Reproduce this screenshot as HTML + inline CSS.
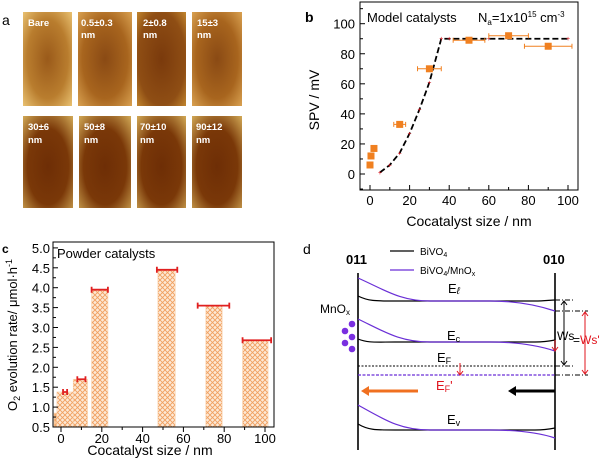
<!DOCTYPE html>
<html><head><meta charset="utf-8"><style>
body{margin:0;background:#fff;}
svg text{font-family:"Liberation Sans",Arial,sans-serif;}
</style></head><body>
<svg id="fig" width="600" height="460" viewBox="0 0 600 460" xmlns="http://www.w3.org/2000/svg">
<defs>
<pattern id="hatch" width="5" height="5" patternUnits="userSpaceOnUse">
<rect width="5" height="5" fill="#fde9d6"/>
<path d="M0,0 L5,5 M5,0 L0,5" stroke="#f0a060" stroke-width="0.9"/>
</pattern>
<pattern id="hatch2" width="5" height="5" patternUnits="userSpaceOnUse">
<rect width="5" height="5" fill="#f8c89a"/>
<path d="M0,0 L5,5 M5,0 L0,5" stroke="#f0a060" stroke-width="0.9"/>
</pattern>
<radialGradient id="g1" cx="0.5" cy="0.5" r="0.7"><stop offset="0" stop-color="#9a5a1a"/><stop offset="0.6" stop-color="#b97d2e"/><stop offset="1" stop-color="#e8c070"/></radialGradient>
<radialGradient id="g2" cx="0.5" cy="0.5" r="0.7"><stop offset="0" stop-color="#8a4a14"/><stop offset="0.6" stop-color="#a8651e"/><stop offset="1" stop-color="#d8a050"/></radialGradient>
<radialGradient id="g3" cx="0.5" cy="0.5" r="0.7"><stop offset="0" stop-color="#7a3a0c"/><stop offset="0.7" stop-color="#8f4e14"/><stop offset="1" stop-color="#c0842e"/></radialGradient>
<radialGradient id="g4" cx="0.5" cy="0.55" r="0.75"><stop offset="0" stop-color="#6e2e06"/><stop offset="0.55" stop-color="#7a3808"/><stop offset="1" stop-color="#d4ac58"/></radialGradient>
</defs>

<g>
<text x="2" y="25" font-size="14">a</text>
<g font-size="9.5" font-weight="bold" fill="#fff">
<rect x="23" y="12" width="49" height="94" fill="url(#g1)"/>
<text x="28" y="26">Bare</text>
<rect x="78" y="12" width="54" height="94" fill="url(#g2)"/>
<text x="81" y="26">0.5±0.3</text><text x="81" y="38">nm</text>
<rect x="137" y="12" width="49" height="94" fill="url(#g3)"/>
<text x="143" y="26">2±0.8</text><text x="143" y="38">nm</text>
<rect x="192" y="12" width="50" height="94" fill="url(#g2)"/>
<text x="197" y="26">15±3</text><text x="197" y="38">nm</text>
<rect x="23" y="116" width="50" height="92" fill="url(#g4)"/>
<text x="28" y="130">30±6</text><text x="28" y="143">nm</text>
<rect x="79" y="116" width="52" height="92" fill="url(#g4)"/>
<text x="84" y="130">50±8</text><text x="84" y="143">nm</text>
<rect x="137" y="116" width="49" height="92" fill="url(#g4)"/>
<text x="140" y="130">70±10</text><text x="140" y="143">nm</text>
<rect x="192" y="116" width="50" height="92" fill="url(#g4)"/>
<text x="196" y="130">90±12</text><text x="196" y="143">nm</text>
</g>
</g>

<g id="pb">
<text x="478" y="22" font-size="13">N<tspan font-size="8" dy="3">a</tspan><tspan dy="-3">=1x10</tspan><tspan font-size="8" dy="-5">15</tspan><tspan dy="5"> cm</tspan><tspan font-size="8" dy="-5">-3</tspan></text>
</g>
<g id="pc">
<text x="0" y="0" font-size="13" text-anchor="middle" transform="translate(17,335) rotate(-90)">O<tspan font-size="9" dy="3">2</tspan><tspan dy="-3"> evolution rate/ μmol·h</tspan><tspan font-size="9" dy="-5">-1</tspan></text>
</g>

<g fill="none">
<text x="303" y="254" font-size="14" fill="#000">d</text>
<text x="346" y="264" font-size="13" font-weight="bold" fill="#000">011</text>
<text x="543" y="264" font-size="13" font-weight="bold" fill="#000">010</text>
<line x1="390" y1="251" x2="414" y2="251" stroke="#000" stroke-width="1.3"/>
<text x="420" y="255" font-size="10" fill="#000">BiVO<tspan font-size="7" dy="2">4</tspan></text>
<line x1="390" y1="270" x2="414" y2="270" stroke="#6a2fd6" stroke-width="1.3"/>
<text x="420" y="274" font-size="10" fill="#000">BiVO<tspan font-size="7" dy="2">4</tspan><tspan dy="-2">/MnO</tspan><tspan font-size="7" dy="2">x</tspan></text>
<line x1="358" y1="273" x2="358" y2="450" stroke="#000" stroke-width="1.6"/>
<line x1="555" y1="273" x2="555" y2="450" stroke="#000" stroke-width="1.6"/>
<g stroke="#000" stroke-width="1.2">
<path d="M358,296 C368,301 375,301 395,301 L535,301 C545,301 550,300 555,300"/>
<path d="M358,339 C368,343 375,342 395,342 L535,342 C545,342 550,341 555,340"/>
<path d="M358,424 C368,430 375,430 395,430 L535,430 C545,430 550,429 555,428"/>
<line x1="358" y1="366" x2="555" y2="366" stroke-dasharray="2,1.5" stroke-width="1"/>
</g>
<g stroke="#6a2fd6" stroke-width="1.2">
<path d="M358,278 C385,290 400,301 430,301 L490,301 C520,301 540,306 555,311"/>
<path d="M358,319 C385,332 400,342 430,342 L490,342 C520,342 540,346 555,351"/>
<path d="M358,405 C385,420 400,430 430,430 L490,430 C520,430 540,433 555,438"/>
<line x1="358" y1="375" x2="555" y2="375" stroke-dasharray="3,1.5"/>
</g>
<g fill="#000" font-size="13">
<text x="448" y="293">E<tspan font-style="italic" font-size="10" dy="1">ℓ</tspan></text>
<text x="447" y="340">E<tspan font-size="9" dy="2">c</tspan></text>
<text x="437" y="362">E<tspan font-size="9" dy="2">F</tspan></text>
<text x="447" y="424">E<tspan font-size="9" dy="2">v</tspan></text>
<text x="320" y="313" font-size="12">MnO<tspan font-size="8" dy="2">x</tspan></text>
<text x="557" y="340" font-size="12">Ws</text>
<text x="573" y="344" font-size="12">=</text>
</g>
<text x="436" y="390" font-size="13" fill="#e0141e">E<tspan font-size="9" dy="2">F</tspan><tspan dy="-2">'</tspan></text>
<text x="580" y="344" font-size="12" fill="#e0141e">Ws'</text>
<g fill="#7a2fe0">
<circle cx="352" cy="324" r="3.3"/><circle cx="345" cy="331" r="3.3"/><circle cx="352" cy="337" r="3.3"/><circle cx="345" cy="343" r="3.3"/><circle cx="352" cy="349" r="3.3"/>
</g>
<g stroke="#000" stroke-width="0.9" stroke-dasharray="5,2,1,2">
<line x1="555" y1="300" x2="575" y2="300"/><line x1="555" y1="366" x2="575" y2="366"/>
<line x1="555" y1="311" x2="588" y2="311"/><line x1="555" y1="375" x2="588" y2="375"/>
</g>
<g stroke="#000" stroke-width="1">
<line x1="564" y1="302" x2="564" y2="364"/><path d="M561,305 L564,301 L567,305 M561,361 L564,365 L567,361"/>
</g>
<g stroke="#e0141e" stroke-width="1">
<line x1="585" y1="313" x2="585" y2="373"/><path d="M582,316 L585,312 L588,316 M582,370 L585,374 L588,370"/>
<line x1="555" y1="340" x2="555" y2="350"/><path d="M552,347 L555,351 L558,347"/>
<line x1="460" y1="363" x2="460" y2="374"/><path d="M457,371 L460,375 L463,371"/>
</g>
<g><line x1="418" y1="391" x2="368" y2="391" stroke="#f07020" stroke-width="3"/><path d="M369,386 L361,391 L369,396 Z" fill="#f07020"/></g>
<g><line x1="555" y1="391" x2="515" y2="391" stroke="#000" stroke-width="3"/><path d="M516,386 L508,391 L516,396 Z" fill="#000"/></g>
</g>

<script>
// ---------- Panel b data ----------
const spvSizes = [0, 0.5, 2, 15, 30, 50, 70, 90];
const spvValues = [6, 12, 17, 33, 70, 89, 92, 85];
const spvSizeErr = [0, 0, 0, 3, 6, 8, 10, 12];
const modelSizes = [5, 10, 15, 20, 25, 30, 36, 40, 60, 100];
const modelSpv = [1, 6, 14, 27, 43, 61, 90, 90, 90, 90];
const bYTicks = [0, 20, 40, 60, 80, 100];
const bXTicks = [0, 20, 40, 60, 80, 100];
// ---------- Panel c data ----------
const rateLeft = [-3.4, -2, 6, 15, 47.5, 71, 89];
const rateRight = [4.4, 6, 13, 23, 56, 79, 101.5];
const rateValues = [0.85, 1.38, 1.7, 3.95, 4.45, 3.55, 2.68];
const rateErrLo = [null, 1, 8, 15, 47, 67, 89];
const rateErrHi = [null, 3, 12, 23, 57, 82.5, 103];
const cYTicks = [0.5, 1.0, 1.5, 2.0, 2.5, 3.0, 3.5, 4.0, 4.5, 5.0];
const cXTicks = [0, 20, 40, 60, 80, 100];

const NS = "http://www.w3.org/2000/svg";
function mk(parent, tag, attrs, txt) {
  const e = document.createElementNS(NS, tag);
  for (const k in attrs) e.setAttribute(k, attrs[k]);
  if (txt !== undefined) e.textContent = txt;
  parent.appendChild(e);
  return e;
}

(function () {
  const g = document.getElementById("pb");
  const L = 360, R = 578, T = 2, B = 190;
  const xs = v => 370 + v * 1.98;
  const ys = v => 174 - v * 1.503;
  let e;
  e = mk(g, "text", { x: 305, y: 22, "font-size": 14, "font-weight": "bold" }, "b");
  
  
  e = mk(g, "rect", { x: L, y: T, width: R - L, height: B - T, fill: "none", stroke: "#000", "stroke-width": 1 });
  
  
  for (let v = -10; v <= 110; v += 10) {
    const y = ys(v); if (y < T || y > B) continue;
    const major = bYTicks.includes(v);
    mk(g, "line", { x1: L, x2: L + (major ? 5 : 3), y1: y, y2: y, stroke: "#000" });
  }
  bYTicks.forEach(v => {
    e = mk(g, "text", { x: L - 5, y: ys(v) + 5, "font-size": 13, "text-anchor": "end" }, v);
    
    
  });
  for (let v = 0; v <= 100; v += 10) {
    const major = bXTicks.includes(v);
    mk(g, "line", { x1: xs(v), x2: xs(v), y1: B, y2: B - (major ? 5 : 3), stroke: "#000" });
  }
  bXTicks.forEach(v => {
    e = mk(g, "text", { x: xs(v), y: B + 15, "font-size": 13, "text-anchor": "middle" }, v);
    
    
  });
  e = mk(g, "text", { x: 469, y: 226, "font-size": 14, "text-anchor": "middle" }, "Cocatalyst size / nm");
  
  
  e = mk(g, "text", { x: 0, y: 0, "font-size": 14, "text-anchor": "middle", transform: "translate(319,100) rotate(-90)" }, "SPV / mV");
  
  
  e = mk(g, "text", { x: 367, y: 22, "font-size": 13 }, "Model catalysts");
  
  
  const d = modelSizes.map((s, i) => (i ? "L" : "M") + xs(s) + "," + ys(modelSpv[i])).join(" ");
  e = mk(g, "path", { d: d, fill: "none", stroke: "#000", "stroke-width": 1.8, "stroke-dasharray": "6,3" });
  
  
  modelSizes.forEach((s, i) => {
    e = mk(g, "text", { x: xs(s), y: ys(modelSpv[i]) + 2.5, "font-size": 7, fill: "#e0141e", "text-anchor": "middle" }, "+");
    
    
  });
  spvSizes.forEach((s, i) => {
    if (spvSizeErr[i] > 0) {
      const y = ys(spvValues[i]);
      e = mk(g, "path", { d: `M${xs(s - spvSizeErr[i])},${y} L${xs(s + spvSizeErr[i])},${y} M${xs(s - spvSizeErr[i])},${y - 2.5} L${xs(s - spvSizeErr[i])},${y + 2.5} M${xs(s + spvSizeErr[i])},${y - 2.5} L${xs(s + spvSizeErr[i])},${y + 2.5}`, stroke: "#f08020", "stroke-width": 1, fill: "none" });
      
      
    }
    e = mk(g, "rect", { x: xs(s) - 3.5, y: ys(spvValues[i]) - 3.5, width: 7, height: 7, fill: "#f08020" });
    
    
  });
})();

(function () {
  const g = document.getElementById("pc");
  const L = 53, R = 274, T = 242, B = 427;
  const xs = v => 61 + v * 2.04;
  const ys = v => 427 - (v - 0.5) * 39.8;
  let e;
  e = mk(g, "text", { x: 2, y: 253, "font-size": 12, "font-weight": "bold" }, "c");
  
  
  rateValues.forEach((v, i) => {
    e = mk(g, "rect", { x: xs(rateLeft[i]), y: ys(v), width: xs(rateRight[i]) - xs(rateLeft[i]), height: B - ys(v), fill: i === 0 ? "url(#hatch2)" : "url(#hatch)", stroke: "#fbd0a8", "stroke-width": 0.6 });
    
    
    if (rateErrLo[i] !== null) {
      const y = ys(v);
      e = mk(g, "path", { d: `M${xs(rateErrLo[i])},${y} L${xs(rateErrHi[i])},${y} M${xs(rateErrLo[i])},${y - 3} L${xs(rateErrLo[i])},${y + 3} M${xs(rateErrHi[i])},${y - 3} L${xs(rateErrHi[i])},${y + 3}`, stroke: "#e02020", "stroke-width": 1.8, fill: "none" });
      
      
    }
  });
  e = mk(g, "rect", { x: L, y: T, width: R - L, height: B - T, fill: "none", stroke: "#000", "stroke-width": 1 });
  
  
  cYTicks.forEach(v => {
    mk(g, "line", { x1: L, x2: L + 5, y1: ys(v), y2: ys(v), stroke: "#000" });
    if (v < 5) mk(g, "line", { x1: L, x2: L + 3, y1: ys(v + 0.25), y2: ys(v + 0.25), stroke: "#000" });
    e = mk(g, "text", { x: L - 3, y: ys(v) + 5, "font-size": 13, "text-anchor": "end" }, v.toFixed(1));
    
    
  });
  for (let v = 0; v <= 100; v += 10) {
    mk(g, "line", { x1: xs(v), x2: xs(v), y1: B, y2: B + (cXTicks.includes(v) ? 5 : 3), stroke: "#000" });
  }
  cXTicks.forEach(v => {
    e = mk(g, "text", { x: xs(v), y: B + 16, "font-size": 13, "text-anchor": "middle" }, v);
    
    
  });
  e = mk(g, "text", { x: 150, y: 455, "font-size": 14, "text-anchor": "middle" }, "Cocatalyst size / nm");
  
  
  e = mk(g, "text", { x: 57, y: 258, "font-size": 13 }, "Powder catalysts");
  
  
})();
</script>
</svg>
</body></html>
